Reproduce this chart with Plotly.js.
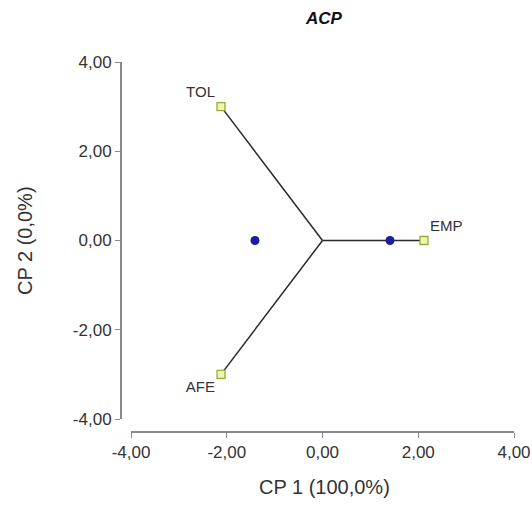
<!DOCTYPE html>
<html><head><meta charset="utf-8">
<script src="https://cdn.plot.ly/plotly-3.0.1.min.js"></script>
<style>body{margin:0;background:#fff}#c{width:532px;height:505px}</style>
</head><body><div id="c"></div>
<script>
const varNames = ["TOL", "EMP", "AFE"];
const varX = [-2.12, 2.12, -2.12];
const varY = [3.0, 0.0, -3.0];
const varTextPos = ["top left", "top right", "bottom left"];
const obsX = [-1.41, 1.41];
const obsY = [0.0, 0.0];
const tickVals = [-4, -2, 0, 2, 4];
const tickText = ["-4,00", "-2,00", "0,00", "2,00", "4,00"];
const chartTitle = "ACP";
const xTitle = "CP 1 (100,0%)";
const yTitle = "CP 2 (0,0%)";

const lx = [], ly = [];
varX.forEach((v, i) => { lx.push(0, v, null); ly.push(0, varY[i], null); });

const W = 532, H = 505;
const fam = "Liberation Sans, Arial, sans-serif";
const font = {family: fam, size: 17, color: "#333"};

const traces = [
  {x: lx, y: ly, mode: "lines", line: {color: "#2a2a2a", width: 1.5}, hoverinfo: "skip"},
  {x: obsX, y: obsY, mode: "markers", marker: {color: "#1c1c9c", size: 9, symbol: "circle"}},
  {x: varX, y: varY, mode: "markers+text", text: varNames, textposition: varTextPos,
   textfont: {family: fam, size: 15, color: "#333"},
   marker: {symbol: "square", size: 8, color: "#eef7b0", line: {color: "#9aaa3a", width: 1.3}}}
];

const axBase = {
  range: [-4, 4], showgrid: false, zeroline: false, showline: true,
  linecolor: "#8a8a8a", linewidth: 1.5, ticks: "outside", ticklen: 5,
  tickcolor: "#8a8a8a", tickwidth: 1, tickvals: tickVals, ticktext: tickText,
  tickfont: font, automargin: false, fixedrange: true
};

const layout = {
  width: W, height: H, margin: {l: 0, r: 0, t: 0, b: 0},
  paper_bgcolor: "#fff", plot_bgcolor: "#fff", showlegend: false,
  font: font,
  title: {text: "<b><i>" + chartTitle + "</i></b>", x: 324 / W, xanchor: "center",
          y: 1 - 18 / H, yanchor: "middle", font: {family: fam, size: 17, color: "#111"}},
  xaxis: Object.assign({}, axBase, {domain: [131 / W, 514 / W], anchor: "free", position: 1 - 431 / H}),
  yaxis: Object.assign({}, axBase, {domain: [1 - 419 / H, 1 - 62 / H], anchor: "free", position: 120 / W}),
  annotations: [
    {text: xTitle, xref: "paper", yref: "paper", x: 324 / W, y: 1 - 487 / H,
     xanchor: "center", yanchor: "middle", showarrow: false, font: {family: fam, size: 20, color: "#333"}},
    {text: yTitle, xref: "paper", yref: "paper", x: 25 / W, y: 1 - 241 / H, textangle: -90,
     xanchor: "center", yanchor: "middle", showarrow: false, font: {family: fam, size: 20, color: "#333"}}
  ]
};

Plotly.newPlot("c", traces, layout, {displayModeBar: false, staticPlot: true});
</script></body></html>
